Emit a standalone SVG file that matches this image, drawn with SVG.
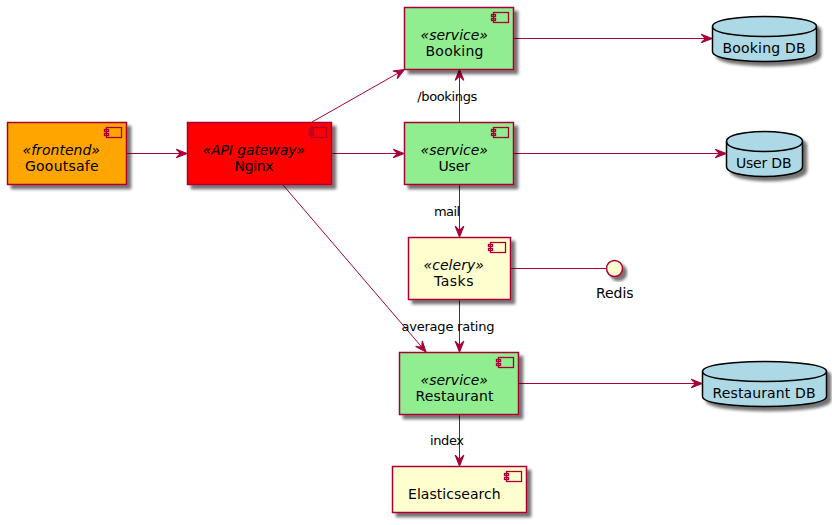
<svg xmlns="http://www.w3.org/2000/svg" width="832" height="525" viewBox="0 0 832 525">
<style>
text{font-family:"DejaVu Sans",sans-serif;font-size:14px;fill:#000}
.st{font-style:italic}
.lb{font-size:13px}
.box{stroke:#A80036;stroke-width:1.5}
.ic{fill:none;stroke:#A80036;stroke-width:1.3}
.db{fill:#ADD8E6;stroke:#000;stroke-width:1.5}
.cyl{fill:none;stroke:#000;stroke-width:1.5}
.c{fill:none;stroke:#A80036;stroke-width:1}
.head{fill:#A80036;stroke:#A80036;stroke-width:1}
</style>
<defs>
<filter id="sh" x="-20%" y="-20%" width="150%" height="150%">
<feGaussianBlur in="SourceAlpha" stdDeviation="1.7"/>
<feOffset dx="4" dy="4"/>
<feComponentTransfer><feFuncA type="linear" slope="0.55"/></feComponentTransfer>
<feMerge><feMergeNode/><feMergeNode in="SourceGraphic"/></feMerge>
</filter>
<g id="icon"><rect class="ic" x="-15" y="0" width="15" height="10"/><rect class="ic" x="-17" y="2" width="4" height="2"/><rect class="ic" x="-17" y="6" width="4" height="2"/></g>
<marker id="arr" markerUnits="userSpaceOnUse" markerWidth="13" markerHeight="12" viewBox="-11 -5 12 10" refX="0" refY="0" orient="auto">
<path class="head" d="M0,0 L-10,-4 L-6,0 L-10,4 Z"/>
</marker>
</defs>
<g id="connectors">
<path class="c" marker-end="url(#arr)" d="M127,153.500 H187"/>
<path class="c" marker-end="url(#arr)" d="M312,122 L404.500,69.500"/>
<path class="c" marker-end="url(#arr)" d="M332,153.500 H404"/>
<path class="c" marker-end="url(#arr)" d="M283,185 L426,352"/>
<path class="c" marker-end="url(#arr)" d="M459.500,122 V69.500"/>
<path class="c" marker-end="url(#arr)" d="M513.500,38.500 H712"/>
<path class="c" marker-end="url(#arr)" d="M513.500,153.500 H726"/>
<path class="c" marker-end="url(#arr)" d="M459.500,185 V237"/>
<path class="c" d="M510.500,268.500 H606"/>
<path class="c" marker-end="url(#arr)" d="M459.500,300 V352"/>
<path class="c" marker-end="url(#arr)" d="M518.500,383.500 H702"/>
<path class="c" marker-end="url(#arr)" d="M459.500,415 V466"/>
<text class="lb" x="417.300" y="101" textLength="60">/bookings</text>
<text class="lb" x="434" y="216" textLength="26">mail</text>
<text class="lb" x="401.500" y="331" textLength="93">average rating</text>
<text class="lb" x="430" y="445" textLength="34">index</text>
</g>
<g id="gooutsafe">
<rect class="box" filter="url(#sh)" x="7.500" y="122.500" width="119" height="62" fill="#FFA500"/>
<use href="#icon" x="121.500" y="127.500"/>
<text class="st" x="22.500" y="155" textLength="77.500">«frontend»</text>
<text x="25" y="171" textLength="73.500">Gooutsafe</text>
</g>
<g id="nginx">
<rect class="box" filter="url(#sh)" x="187.500" y="122.500" width="144" height="62" fill="#FF0000"/>
<use href="#icon" x="326.500" y="127.500"/>
<text class="st" x="202.500" y="155" textLength="102.500">«API gateway»</text>
<text x="234.500" y="171" textLength="39">Nginx</text>
</g>
<g id="booking">
<rect class="box" filter="url(#sh)" x="404.500" y="7.500" width="109" height="62" fill="#90EE90"/>
<use href="#icon" x="508.500" y="12.500"/>
<text class="st" x="420.500" y="40" textLength="67.500">«service»</text>
<text x="425.500" y="56" textLength="58">Booking</text>
</g>
<g id="user">
<rect class="box" filter="url(#sh)" x="404.500" y="122.500" width="109" height="62" fill="#90EE90"/>
<use href="#icon" x="508.500" y="127.500"/>
<text class="st" x="420.500" y="155" textLength="67.500">«service»</text>
<text x="438.500" y="171" textLength="31.500">User</text>
</g>
<g id="tasks">
<rect class="box" filter="url(#sh)" x="408.500" y="237.500" width="102" height="62" fill="#FEFECE"/>
<use href="#icon" x="505.500" y="242.500"/>
<text class="st" x="423.500" y="270" textLength="60.500">«celery»</text>
<text x="434" y="286" textLength="39.500">Tasks</text>
</g>
<g id="restaurant">
<rect class="box" filter="url(#sh)" x="399.500" y="352.500" width="119" height="62" fill="#90EE90"/>
<use href="#icon" x="513.500" y="357.500"/>
<text class="st" x="420.500" y="385" textLength="67.500">«service»</text>
<text x="415.500" y="401" textLength="78">Restaurant</text>
</g>
<g id="elasticsearch">
<rect class="box" filter="url(#sh)" x="392.500" y="466.500" width="134" height="46" fill="#FEFECE"/>
<use href="#icon" x="521.500" y="471.500"/>
<text x="408" y="499" textLength="92.700">Elasticsearch</text>
</g>
<g id="redis">
<circle class="box" filter="url(#sh)" cx="614.500" cy="268.500" r="8" fill="#FEFECE"/>
<text x="596" y="298" textLength="37.500">Redis</text>
</g>
<g id="booking-db">
<path class="db" filter="url(#sh)" d="M712.500,26.500 C712.500,16.500 764.500,16.500 764.500,16.500 C764.500,16.500 816.500,16.500 816.500,26.500 V51.500 C816.500,61.500 764.500,61.500 764.500,61.500 C764.500,61.500 712.500,61.500 712.500,51.500 Z"/>
<path class="cyl" d="M712.500,26.500 C712.500,36.500 764.500,36.500 764.500,36.500 C764.500,36.500 816.500,36.500 816.500,26.500"/>
<text x="722.500" y="53" textLength="83">Booking DB</text>
</g>
<g id="user-db">
<path class="db" filter="url(#sh)" d="M726.500,141.500 C726.500,131.500 764.500,131.500 764.500,131.500 C764.500,131.500 802.500,131.500 802.500,141.500 V166.500 C802.500,176.500 764.500,176.500 764.500,176.500 C764.500,176.500 726.500,176.500 726.500,166.500 Z"/>
<path class="cyl" d="M726.500,141.500 C726.500,151.500 764.500,151.500 764.500,151.500 C764.500,151.500 802.500,151.500 802.500,141.500"/>
<text x="736" y="168" textLength="55.500">User DB</text>
</g>
<g id="restaurant-db">
<path class="db" filter="url(#sh)" d="M702.500,371.500 C702.500,361.500 764.500,361.500 764.500,361.500 C764.500,361.500 826.500,361.500 826.500,371.500 V396.500 C826.500,406.500 764.500,406.500 764.500,406.500 C764.500,406.500 702.500,406.500 702.500,396.500 Z"/>
<path class="cyl" d="M702.500,371.500 C702.500,381.500 764.500,381.500 764.500,381.500 C764.500,381.500 826.500,381.500 826.500,371.500"/>
<text x="712.500" y="398" textLength="103">Restaurant DB</text>
</g>
</svg>
